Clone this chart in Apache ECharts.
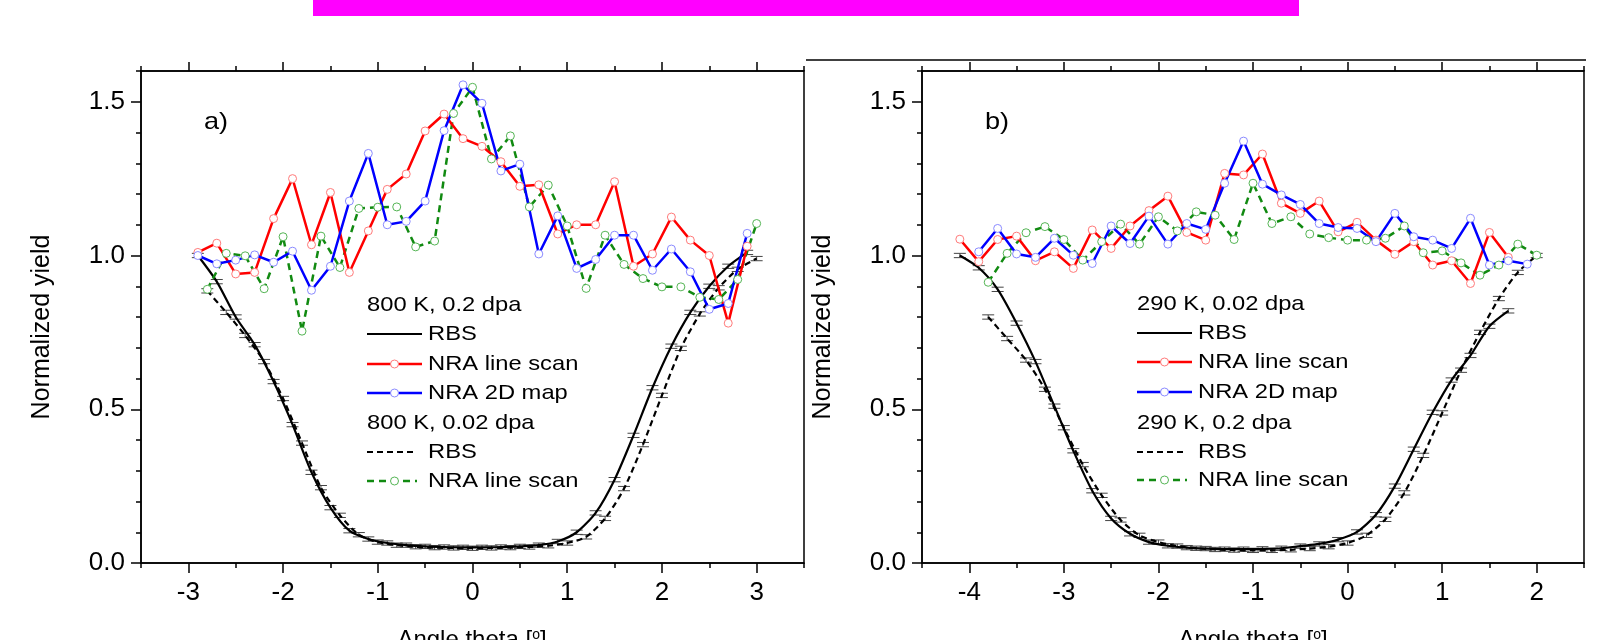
<!DOCTYPE html>
<html><head><meta charset="utf-8">
<script src="https://cdn.jsdelivr.net/npm/echarts@6/dist/echarts.min.js"></script>
<style>html,body{margin:0;padding:0;background:#fff;overflow:hidden}#c{width:1613px;height:640px;}</style>
</head><body><div id="c"></div>
<script>
// ===== DATA =====
// Panel a) 800 K
const a_legend = ['800 K, 0.2 dpa', 'RBS', 'NRA line scan', 'NRA 2D map', '800 K, 0.02 dpa', 'RBS', 'NRA line scan'];
const a_oddX = [-2.9,-2.7,-2.5,-2.3,-2.1,-1.9,-1.7,-1.5,-1.3,-1.1,-0.9,-0.7,-0.5,-0.3,-0.1,0.1,0.3,0.5,0.7,0.9,1.1,1.3,1.5,1.7,1.9,2.1,2.3,2.5,2.7,2.9];
const a_evenX = [-2.8,-2.6,-2.4,-2.2,-2.0,-1.8,-1.6,-1.4,-1.2,-1.0,-0.8,-0.6,-0.4,-0.2,0.0,0.2,0.4,0.6,0.8,1.0,1.2,1.4,1.6,1.8,2.0,2.2,2.4,2.6,2.8,3.0];
const a_rbsSolid = [1.00,0.915,0.80,0.71,0.59,0.45,0.295,0.18,0.105,0.078,0.065,0.058,0.054,0.052,0.051,0.051,0.052,0.054,0.058,0.07,0.10,0.163,0.271,0.415,0.57,0.705,0.815,0.90,0.965,1.01];
const a_nraLine = [1.01,1.04,0.94,0.945,1.12,1.25,1.035,1.205,0.945,1.08,1.215,1.265,1.405,1.46,1.38,1.355,1.305,1.225,1.23,1.07,1.10,1.10,1.24,0.965,1.005,1.125,1.05,1.0,0.78,1.03];
const a_nraMap = [1.00,0.973,0.985,1.002,0.978,1.014,0.887,0.965,1.177,1.332,1.10,1.111,1.177,1.406,1.555,1.495,1.275,1.297,1.005,1.129,0.958,0.987,1.066,1.066,0.952,1.021,0.947,0.825,0.844,1.072];
const a_rbsDash = [0.885,0.815,0.74,0.655,0.535,0.39,0.245,0.155,0.092,0.068,0.058,0.053,0.050,0.049,0.048,0.049,0.050,0.052,0.056,0.065,0.085,0.145,0.242,0.385,0.545,0.698,0.81,0.895,0.955,0.99];
const a_nraLineDash = [0.89,1.007,0.999,0.892,1.061,0.754,1.063,0.961,1.153,1.157,1.158,1.028,1.047,1.462,1.547,1.314,1.389,1.158,1.229,1.096,0.893,1.066,0.971,0.925,0.898,0.898,0.864,0.857,0.922,1.104];

// Panel b) 290 K
const b_legend = ['290 K, 0.02 dpa', 'RBS', 'NRA line scan', 'NRA 2D map', '290 K, 0.2 dpa', 'RBS', 'NRA line scan'];
const b_solidX = [-4.1,-3.9,-3.7,-3.5,-3.3,-3.1,-2.9,-2.7,-2.5,-2.3,-2.1,-1.9,-1.7,-1.5,-1.3,-1.1,-0.9,-0.7,-0.5,-0.3,-0.1,0.1,0.3,0.5,0.7,0.9,1.1,1.3,1.5,1.7];
const b_rbsSolid = [1.00,0.96,0.89,0.78,0.655,0.51,0.365,0.235,0.145,0.095,0.068,0.056,0.050,0.047,0.045,0.045,0.046,0.048,0.055,0.062,0.076,0.101,0.157,0.25,0.37,0.49,0.595,0.675,0.77,0.82];
const b_nraLine = [1.053,0.98,1.052,1.063,0.983,1.012,0.958,1.083,1.023,1.096,1.146,1.193,1.075,1.05,1.267,1.262,1.33,1.17,1.137,1.177,1.077,1.108,1.05,1.004,1.045,0.969,0.983,0.909,1.075,0.994];
const b_mapX = [-3.9,-3.7,-3.5,-3.3,-3.1,-2.9,-2.7,-2.5,-2.3,-2.1,-1.9,-1.7,-1.5,-1.3,-1.1,-0.9,-0.7,-0.5,-0.3,-0.1,0.1,0.3,0.5,0.7,0.9,1.1,1.3,1.5,1.7,1.9];
const b_nraMap = [1.012,1.088,1.005,0.994,1.056,1.001,0.974,1.096,1.039,1.128,1.037,1.104,1.085,1.235,1.372,1.232,1.197,1.166,1.104,1.091,1.088,1.045,1.137,1.061,1.05,1.023,1.121,0.969,0.983,0.972];
const b_dashX = [-3.8,-3.6,-3.4,-3.2,-3.0,-2.8,-2.6,-2.4,-2.2,-2.0,-1.8,-1.6,-1.4,-1.2,-1.0,-0.8,-0.6,-0.4,-0.2,0.0,0.2,0.4,0.6,0.8,1.0,1.2,1.4,1.6,1.8,2.0];
const b_rbsDash = [0.80,0.73,0.66,0.565,0.44,0.32,0.22,0.14,0.09,0.068,0.055,0.048,0.044,0.042,0.041,0.041,0.043,0.047,0.053,0.065,0.09,0.142,0.228,0.35,0.488,0.627,0.75,0.86,0.945,1.00];
const b_nraLineDash = [0.913,1.007,1.074,1.094,1.052,0.985,1.045,1.102,1.037,1.126,1.08,1.142,1.131,1.052,1.235,1.104,1.126,1.07,1.058,1.05,1.05,1.056,1.096,1.009,1.015,0.976,0.936,0.969,1.037,1.001];

// axes
const a_xTicks = [-3,-2,-1,0,1,2,3];
const b_xTicks = [-4,-3,-2,-1,0,1,2];
const yTicks = [0,0.5,1.0,1.5];
const RBS_ERR = 0.007;
const xTitle = 'Angle theta [';
const yTitle = 'Normalized yield';

// ===== CHART =====
const FONT = "'Liberation Sans', Arial, sans-serif";
const BLACK = '#000';
const STRETCH = 1.13;
const chart = echarts.init(document.getElementById('c'), null, {renderer: 'canvas'});

function pairs(xs, ys) { return xs.map((x, i) => [x, ys[i]]); }

function xAxes(gi, min, max, ticks) {
  const base = {type: 'value', gridIndex: gi, min: min, max: max, splitLine: {show: false}};
  return [
    Object.assign({}, base, {position: 'bottom',
      axisLine: {show: true, onZero: false, lineStyle: {color: BLACK, width: 1.5}},
      axisTick: {show: true, customValues: ticks, length: 10, lineStyle: {color: BLACK, width: 1.5}},
      axisLabel: {show: true, customValues: ticks, margin: 17, fontSize: 26, color: BLACK, fontFamily: FONT,
        formatter: v => String(v)}}),
    Object.assign({}, base, {position: 'bottom', interval: 0.5,
      axisLine: {show: false, onZero: false},
      axisTick: {show: true, length: 5, lineStyle: {color: BLACK, width: 1.5}},
      axisLabel: {show: false}}),
    Object.assign({}, base, {position: 'top',
      axisLine: {show: true, onZero: false, lineStyle: {color: BLACK, width: 1.5}},
      axisTick: {show: true, customValues: ticks, length: 9, lineStyle: {color: BLACK, width: 1.5}},
      axisLabel: {show: false}}),
    Object.assign({}, base, {position: 'top', interval: 0.5,
      axisLine: {show: false, onZero: false},
      axisTick: {show: true, length: 5, lineStyle: {color: BLACK, width: 1.5}},
      axisLabel: {show: false}})
  ];
}
function yAxes(gi) {
  const base = {type: 'value', gridIndex: gi, min: 0, max: 1.6, splitLine: {show: false}, position: 'left'};
  return [
    Object.assign({}, base, {
      axisLine: {show: true, onZero: false, lineStyle: {color: BLACK, width: 1.5}},
      axisTick: {show: true, customValues: yTicks, length: 10, lineStyle: {color: BLACK, width: 1.5}},
      axisLabel: {show: true, customValues: yTicks, margin: 16, fontSize: 26, color: BLACK, fontFamily: FONT,
        formatter: v => v.toFixed(1)}}),
    Object.assign({}, base, {interval: 0.1,
      axisLine: {show: false, onZero: false},
      axisTick: {show: true, length: 5, lineStyle: {color: BLACK, width: 1.5}},
      axisLabel: {show: false}})
  ];
}

function errSeries(xs, ys, xi, yi) {
  return {
    type: 'custom', xAxisIndex: xi, yAxisIndex: yi, silent: true, z: 3,
    encode: {x: 0, y: 1},
    data: xs.map((x, i) => [x, ys[i], RBS_ERR]),
    renderItem: function (params, api) {
      const x = api.value(0), y = api.value(1), e = api.value(2);
      const t = api.coord([x, y + e]), b = api.coord([x, y - e]);
      const hw = 6, st = {stroke: '#444', lineWidth: 1};
      return {type: 'group', children: [
        {type: 'line', shape: {x1: t[0] - hw, y1: t[1], x2: t[0] + hw, y2: t[1]}, style: st},
        {type: 'line', shape: {x1: b[0] - hw, y1: b[1], x2: b[0] + hw, y2: b[1]}, style: st},
        {type: 'line', shape: {x1: t[0], y1: t[1], x2: b[0], y2: b[1]}, style: st}
      ]};
    }
  };
}
function rbsSeries(name, xs, ys, xi, yi, dashed) {
  return {
    name: name, type: 'line', xAxisIndex: xi, yAxisIndex: yi, data: pairs(xs, ys),
    showSymbol: false, symbol: 'none', smooth: 0.25, z: 4,
    lineStyle: {color: BLACK, width: 2.2, type: dashed ? [6, 4] : 'solid'}
  };
}
function nraSeries(name, xs, ys, xi, yi, color, border, dashed) {
  return {
    name: name, type: 'line', xAxisIndex: xi, yAxisIndex: yi, data: pairs(xs, ys),
    symbol: 'circle', symbolSize: 8, z: 5,
    itemStyle: {color: '#fff', borderColor: border, borderWidth: 1},
    lineStyle: {color: color, width: 2.5, type: dashed ? [7, 5] : 'solid'}
  };
}

const RED = '#ff0000', RED_M = '#ff7a7a';
const BLUE = '#0000ff', BLUE_M = '#8a8aff';
const GREEN = '#118a11', GREEN_M = '#55b555';

const series = [
  // panel a
  rbsSeries('a RBS 0.2', a_oddX, a_rbsSolid, 0, 0, false),
  errSeries(a_oddX, a_rbsSolid, 0, 0),
  rbsSeries('a RBS 0.02', a_evenX, a_rbsDash, 0, 0, true),
  errSeries(a_evenX, a_rbsDash, 0, 0),
  nraSeries('a NRA line 0.02', a_evenX, a_nraLineDash, 0, 0, GREEN, GREEN_M, true),
  nraSeries('a NRA line 0.2', a_oddX, a_nraLine, 0, 0, RED, RED_M, false),
  nraSeries('a NRA map 0.2', a_oddX, a_nraMap, 0, 0, BLUE, BLUE_M, false),
  // panel b
  rbsSeries('b RBS 0.02', b_solidX, b_rbsSolid, 4, 2, false),
  errSeries(b_solidX, b_rbsSolid, 4, 2),
  rbsSeries('b RBS 0.2', b_dashX, b_rbsDash, 4, 2, true),
  errSeries(b_dashX, b_rbsDash, 4, 2),
  nraSeries('b NRA line 0.2', b_dashX, b_nraLineDash, 4, 2, GREEN, GREEN_M, true),
  nraSeries('b NRA line 0.02', b_solidX, b_nraLine, 4, 2, RED, RED_M, false),
  nraSeries('b NRA map 0.02', b_mapX, b_nraMap, 4, 2, BLUE, BLUE_M, false)
];

// legend graphics (text stretched horizontally like the source figure)
const LFONT = '21px ' + FONT;
function sText(x, yMid, txt, font) {
  return {type: 'text', x: x, y: yMid, scaleX: STRETCH, scaleY: 1,
    style: {text: txt, font: font, fill: BLACK, align: 'left', verticalAlign: 'middle'}};
}
function legendGroup(x0, lineEnd, textX, rows, labels) {
  const els = [];
  const styles = [null, {c: BLACK, d: null, m: null}, {c: RED, d: null, m: RED_M}, {c: BLUE, d: null, m: BLUE_M},
                  null, {c: BLACK, d: [6, 4], m: null}, {c: GREEN, d: [7, 5], m: GREEN_M}];
  labels.forEach((lab, i) => {
    const s = styles[i];
    if (!s) { els.push(sText(x0, rows[i], lab, LFONT)); return; }
    const le = s.d ? lineEnd - 5 : lineEnd;
    els.push({type: 'line', shape: {x1: x0, y1: rows[i], x2: le, y2: rows[i]},
      style: {stroke: s.c, lineWidth: s.c === BLACK ? 2.2 : 2.5, lineDash: s.d || null}});
    if (s.m) {
      els.push({type: 'circle', shape: {cx: (x0 + lineEnd) / 2, cy: rows[i], r: 4},
        style: {fill: '#fff', stroke: s.m, lineWidth: 1}});
    }
    els.push(sText(textX, rows[i], lab, LFONT));
  });
  return els;
}

const graphic = [
  {type: 'rect', shape: {x: 313, y: 0, width: 986, height: 16}, style: {fill: '#ff00ff'}},
  {type: 'line', shape: {x1: 806, y1: 60, x2: 1586, y2: 60}, style: {stroke: BLACK, lineWidth: 1.5}},
  sText(204, 122, 'a)', '24px ' + FONT),
  sText(985, 122, 'b)', '24px ' + FONT),
  {type: 'text', x: 42, y: 327, rotation: Math.PI / 2,
    style: {text: yTitle, font: '25px ' + FONT, fill: BLACK, align: 'center', verticalAlign: 'middle'}},
  {type: 'text', x: 823, y: 327, rotation: Math.PI / 2,
    style: {text: yTitle, font: '25px ' + FONT, fill: BLACK, align: 'center', verticalAlign: 'middle'}},
  {type: 'text', x: 472, y: 628,
    style: {text: '{a|' + xTitle + '}{s|o}{a|]}', align: 'center', verticalAlign: 'top',
      rich: {a: {font: '24px ' + FONT, fill: BLACK, verticalAlign: 'bottom'}, s: {font: '14px ' + FONT, fill: BLACK, verticalAlign: 'top'}}}},
  {type: 'text', x: 1253, y: 628,
    style: {text: '{a|' + xTitle + '}{s|o}{a|]}', align: 'center', verticalAlign: 'top',
      rich: {a: {font: '24px ' + FONT, fill: BLACK, verticalAlign: 'bottom'}, s: {font: '14px ' + FONT, fill: BLACK, verticalAlign: 'top'}}}}
].concat(
  legendGroup(367, 422, 428, [305, 334, 364, 393, 423, 452, 481], a_legend),
  legendGroup(1137, 1192, 1198, [304, 333, 362, 392, 423, 452, 480], b_legend)
);

chart.setOption({
  animation: false,
  backgroundColor: '#fff',
  grid: [
    {left: 141, top: 71, width: 663, height: 492, show: true, borderColor: BLACK, borderWidth: 1.5, backgroundColor: 'transparent'},
    {left: 922, top: 71, width: 662, height: 492, show: true, borderColor: BLACK, borderWidth: 1.5, backgroundColor: 'transparent'}
  ],
  xAxis: xAxes(0, -3.5, 3.5, a_xTicks).concat(xAxes(1, -4.5, 2.5, b_xTicks)),
  yAxis: yAxes(0).concat(yAxes(1)),
  series: series,
  graphic: graphic
});
</script>
</body></html>
